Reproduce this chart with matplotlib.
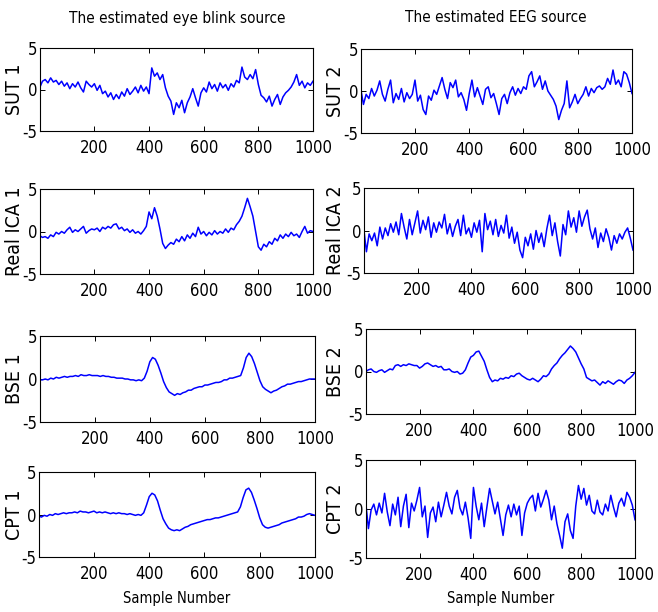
import numpy as np
import matplotlib.pyplot as plt
from matplotlib import font_manager

# sample positions (every 10 samples)
samples = [1] + list(range(10, 1001, 10))

sut1 = [0.3, 1.0, 1.2, 0.8, 1.4, 0.9, 1.1, 0.6, 1.0, 0.4, 0.8,
        0.1, 0.7, 0.3, 0.9, 0.2, -0.3, 1.0, 0.6, 0.3, 0.7,
        -0.1, 0.5, -0.5, -0.2, -0.9, -0.4, -1.2, -0.6, -1.1, -0.3,
        -0.8, 0.1, -0.6, -0.2, 0.3, -0.4, 0.5, -0.2, 0.3, -0.5,
        2.6, 1.6, 2.0, 1.2, 1.8, 0.2, -0.8, -1.4, -3.0, -1.6,
        -2.2, -1.3, -2.8, -1.6, -0.9, 0.1, -1.0, -2.0, -0.4, 0.2,
        -0.3, 0.9, 0.1, 0.6, -0.2, 0.8, 0.2, 0.6, -0.1, 0.7,
        0.3, 1.1, 0.8, 2.7, 1.5, 1.2, 1.8, 1.3, 2.4, 0.6,
        -0.7, -1.0, -1.5, -0.8, -2.0, -1.2, -0.6, -1.8, -0.9, -0.4,
        -0.1, 0.3, 0.9, 1.8, 0.5, 1.0, 0.2, 0.8, 0.5, 1.0]

sut2 = [0.1, -1.6, -0.4, -0.9, 0.3, -0.6, 0.1, 1.2, -0.4, -1.2, 0.2,
        1.3, -1.4, -0.3, -1.0, 0.3, -1.3, -0.2, -0.9, -0.4, 1.3,
        -1.2, -0.5, -2.2, -2.8, -0.6, -1.1, 0.1, -0.4, 0.6, 1.6,
        0.2, -0.9, 1.0, 0.4, 1.3, -0.7, -0.2, -1.0, -2.3, -0.3,
        1.3, -0.7, 0.4, -0.6, -1.6, 0.2, 0.5, -0.8, -0.3, -1.5,
        -2.8, -0.9, -0.4, -1.5, -0.2, 0.5, -0.5, 0.3, -0.3, 0.5,
        0.2, 1.8, 2.3, 0.5, 1.1, 1.8, 0.2, 1.2, 0.0, -0.5,
        -1.0, -1.8, -3.4, -2.3, -1.5, 1.2, -2.0, -1.3, -0.4, -1.5,
        -0.9, -0.4, 0.5, -0.6, 0.3, -0.2, 0.4, 0.6, 0.2, 0.5,
        1.5, 0.8, 2.5, 0.8, 1.3, 0.5, 2.3, 2.0, 1.0, -0.3]

ica1 = [-0.5, -0.7, -0.6, -0.8, -0.4, -0.6, -0.1, -0.3, 0.0, -0.2, 0.2,
        0.5, -0.1, 0.2, 0.0, 0.3, 0.6, -0.2, 0.1, 0.3, 0.2,
        0.4, 0.0, 0.5, 0.3, 0.6, 0.4, 0.8, 0.9, 0.3, 0.5,
        0.1, 0.3, -0.1, 0.2, -0.2, 0.0, -0.3, 0.1, 0.6, 2.3,
        1.5, 2.8, 1.8, 0.3, -1.4, -2.0, -1.6, -1.3, -1.5, -0.9,
        -1.2, -0.6, -1.1, -0.4, -0.8, -0.2, -0.6, 0.5, -0.3, 0.0,
        -0.5, -0.1, -0.4, 0.1, -0.3, 0.0, -0.2, 0.3, -0.1, 0.4,
        0.2, 0.8, 1.2, 1.8, 2.8, 3.9, 2.9, 1.8, 0.0, -1.8,
        -2.2, -1.5, -1.8, -1.2, -1.5, -0.8, -1.1, -0.4, -0.8, -0.3,
        -0.6, -0.1, -0.5, -0.3, -0.7, 0.0, 0.6, -0.2, 0.1, 0.0]

ica2 = [0.0, -2.5, -0.4, -1.2, -0.3, -1.8, 0.4, -1.0, 0.3, -0.6, 0.8,
        -0.2, 1.0, -0.5, 2.0, 0.4, -1.0, 1.3, -0.5, 0.9, 2.3,
        -0.3, 1.2, 0.1, 1.6, -0.8, 0.9, -0.2, 1.0, 0.3, 1.9,
        -0.4, 0.8, -0.7, 0.5, 1.3, -0.6, 1.8, -0.4, 0.3, -0.8,
        0.9, -0.2, 1.2, -2.5, 2.0, 0.1, 1.1, -0.5, 1.3, -0.7,
        0.6, -0.3, 1.8, -0.9, 0.4, -1.5, -0.2, -2.3, -3.2, -0.8,
        -1.8, -0.4, -2.2, 0.0, -1.4, -0.3, -1.9, 0.2, 1.8, -0.6,
        0.9, -1.3, -3.0, 0.7, -0.5, 2.3, 0.4, 1.5, -0.2, 2.3,
        0.5, 1.6, 2.4, 0.2, -1.0, 0.3, -2.0, -0.3, -1.3, 0.2,
        -0.8, -2.3, -0.6, -1.5, -0.4, -1.0, -0.2, 0.3, -0.9, -2.3]

bse1 = [-0.1, -0.1, 0.0, -0.1, 0.1, 0.0, 0.2, 0.1, 0.2, 0.3, 0.2,
        0.3, 0.3, 0.4, 0.3, 0.5, 0.4, 0.4, 0.5, 0.4, 0.4,
        0.4, 0.3, 0.4, 0.3, 0.3, 0.2, 0.2, 0.1, 0.1, 0.1,
        0.0, 0.0, -0.1, -0.1, -0.2, -0.1, -0.2, 0.1, 0.9, 2.0,
        2.5, 2.3, 1.6, 0.7, -0.3, -1.0, -1.5, -1.7, -1.9, -1.7,
        -1.8, -1.6, -1.5, -1.3, -1.3, -1.1, -1.0, -0.9, -0.9, -0.7,
        -0.7, -0.6, -0.5, -0.4, -0.4, -0.3, -0.1, -0.1, 0.1, 0.1,
        0.2, 0.3, 0.4, 1.3, 2.5, 3.0, 2.6, 1.8, 0.8, -0.2,
        -0.9, -1.2, -1.4, -1.6, -1.4, -1.3, -1.1, -0.9, -0.8, -0.6,
        -0.6, -0.5, -0.4, -0.3, -0.3, -0.2, -0.1, 0.0, 0.0, 0.0]

bse2 = [0.0, 0.2, 0.3, 0.0, -0.1, 0.1, 0.2, -0.1, 0.1, 0.3, 0.2,
        0.7, 0.8, 0.6, 0.8, 0.7, 0.9, 0.8, 0.7, 0.7, 0.4,
        0.6, 0.9, 1.0, 0.8, 0.6, 0.7, 0.5, 0.6, 0.2, 0.2,
        0.3, 0.0, -0.1, 0.0, -0.3, -0.2, 0.2, 1.0, 1.7, 1.9,
        2.3, 2.4, 1.8, 1.2, 0.2, -0.7, -1.2, -1.0, -1.1, -0.8,
        -0.9, -0.7, -0.8, -0.5, -0.6, -0.3, -0.2, -0.5, -0.7, -0.9,
        -1.0, -0.8, -1.0, -1.2, -0.9, -0.5, -0.6, -0.3, 0.3, 0.7,
        1.0, 1.5, 1.9, 2.2, 2.6, 3.0, 2.7, 2.3, 1.6, 0.9,
        0.3, -0.7, -0.9, -1.1, -1.0, -1.3, -1.6, -1.2, -1.4, -1.1,
        -1.3, -1.5, -1.2, -1.0, -1.1, -1.4, -1.0, -0.8, -0.5, -0.1]

cpt1 = [-0.2, -0.3, -0.1, -0.2, 0.0, -0.1, 0.1, 0.0, 0.1, 0.2, 0.1,
        0.2, 0.2, 0.3, 0.2, 0.4, 0.3, 0.3, 0.2, 0.3, 0.4,
        0.2, 0.3, 0.2, 0.3, 0.2, 0.1, 0.2, 0.1, 0.2, 0.1,
        0.1, 0.0, 0.1, 0.0, -0.1, 0.0, -0.1, 0.2, 1.1, 2.1,
        2.5, 2.3, 1.6, 0.5, -0.5, -1.1, -1.6, -1.8, -1.9, -1.8,
        -1.9, -1.7, -1.5, -1.4, -1.2, -1.1, -1.0, -0.9, -0.8, -0.7,
        -0.6, -0.6, -0.5, -0.4, -0.4, -0.3, -0.2, -0.1, 0.0, 0.1,
        0.2, 0.3, 0.9, 2.0, 2.9, 3.1, 2.6, 1.7, 0.7, -0.4,
        -1.2, -1.5, -1.6, -1.5, -1.4, -1.3, -1.2, -1.0, -0.9, -0.8,
        -0.7, -0.6, -0.5, -0.3, -0.3, -0.2, 0.0, 0.1, 0.0, -0.1]

cpt2 = [0.4, -2.0, -0.1, 0.5, -0.6, 0.6, -0.4, 1.6, -0.3, -1.7, 0.5,
        -0.6, 1.2, -1.8, 0.3, 1.5, -1.9, 0.6, -0.2, 0.9, 2.2,
        -0.8, 0.3, -2.9, -0.4, 0.2, -1.3, 0.7, -0.8, 0.4, 1.7,
        0.3, -0.5, 1.2, 1.9, 0.1, -0.6, 0.7, -0.9, -3.0, 2.2,
        0.3, -1.1, 0.6, -1.8, 0.2, 2.1, 0.8, -0.5, 0.7, -1.0,
        -2.7, -0.6, 0.4, -0.8, 0.5, -0.6, 0.3, -2.7, -0.4, 0.6,
        1.1, 1.4, -0.2, 1.6, 0.2, 1.0, 1.9, 0.9, -1.1, 0.3,
        -1.5, -2.7, -4.0, -1.3, -0.5, -2.2, -3.0, 0.3, 2.4, 1.0,
        2.1, 0.4, 1.4, -0.2, -0.5, 0.9, -0.3, -0.6, 0.5, -0.2,
        1.4, 0.2, -0.8, 0.6, 1.1, 0.3, 1.7, 1.2, 0.4, -1.1]

left_series = [sut1, ica1, bse1, cpt1]
right_series = [sut2, ica2, bse2, cpt2]
left_labels = ['SUT 1', 'Real ICA 1', 'BSE 1', 'CPT 1']
right_labels = ['SUT 2', 'Real ICA 2', 'BSE 2', 'CPT 2']
titles = ['The estimated eye blink source', 'The estimated EEG source']
xticks = [200, 400, 600, 800, 1000]
yticks = [-5, 0, 5]

# a narrow sans face looks closest to the squeezed MATLAB text
narrow = [f for f in font_manager.fontManager.ttflist
          if ('condensed' in f.fname.lower() or 'narrow' in f.fname.lower())
          and not any(k in f.fname.lower() for k in ('bold', 'italic', 'oblique'))]
if narrow:
    plt.rcParams['font.family'] = [narrow[0].name, 'DejaVu Sans']
    plt.rcParams['font.stretch'] = narrow[0].stretch
    tick_fs, lab_fs, xlab_fs, title_fs = 12, 14, 10.5, 11
else:
    plt.rcParams['font.family'] = ['Liberation Sans', 'DejaVu Sans']
    tick_fs, lab_fs, xlab_fs, title_fs = 11, 13, 9.5, 10
plt.rcParams['axes.unicode_minus'] = False

W, H = 658, 612
fig = plt.figure(figsize=(W / 100, H / 100), dpi=100)

# panel boxes in pixels: left, top, right, bottom
left_boxes = [(40, 48, 313, 131), (40, 189, 313, 274), (40, 336, 315, 422), (39, 472, 315, 557)]
right_boxes = [(361, 49, 632, 133), (364, 188, 633, 273), (366, 329, 635, 414), (366, 460, 635, 558)]


def panel(box, y, label, lab_right, last):
    l, t, r, b = box
    ax = fig.add_axes([l / W, 1 - b / H, (r - l) / W, (b - t) / H])
    ax.plot(samples, y, color='#0000ff', lw=1.1)
    ax.set_xlim(1, 1000)
    ax.set_ylim(-5, 5)
    ax.set_xticks(xticks)
    ax.set_yticks(yticks)
    ax.tick_params(direction='in', top=True, right=True, length=3.5, width=0.7,
                   labelsize=tick_fs)
    ax.tick_params(axis='x', pad=6)
    ax.tick_params(axis='y', pad=2)
    for s in ax.spines.values():
        s.set_linewidth(0.8)
    ax.set_ylabel(label, fontsize=lab_fs)
    ax.yaxis.set_label_coords((lab_right - l) / (r - l), 0.5)
    if last:
        ax.set_xlabel('Sample Number', fontsize=xlab_fs)
        ax.xaxis.set_label_coords(0.5, -(598 - b) / (b - t))
        ax.xaxis.label.set_va('center')
    return ax


for i in range(4):
    panel(left_boxes[i], left_series[i], left_labels[i], 24, i == 3)
    panel(right_boxes[i], right_series[i], right_labels[i], 345, i == 3)

fig.text(177 / W, 1 - 18 / H, titles[0], ha='center', va='center', fontsize=title_fs)
fig.text(496 / W, 1 - 18 / H, titles[1], ha='center', va='center', fontsize=title_fs)

fig.savefig('out.png', dpi=100)
